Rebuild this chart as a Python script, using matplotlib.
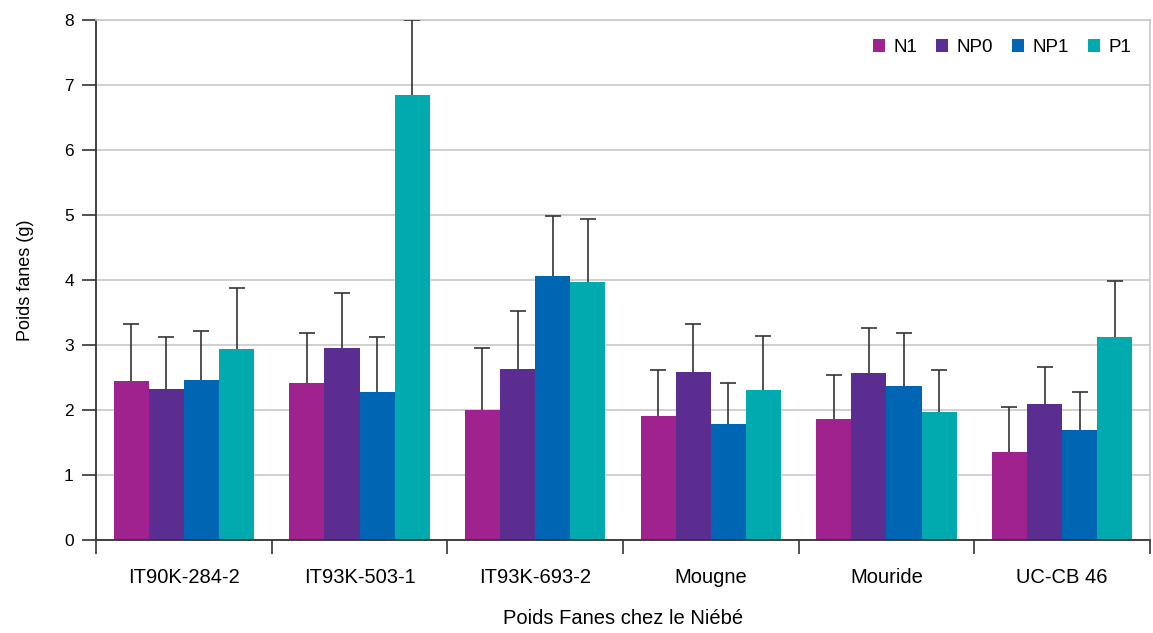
import matplotlib.pyplot as plt
import numpy as np

plt.rcParams['font.family'] = ['Liberation Sans', 'DejaVu Sans']

varieties = ['IT90K-284-2', 'IT93K-503-1', 'IT93K-693-2', 'Mougne', 'Mouride', 'UC-CB 46']
treatments = ['N1', 'NP0', 'NP1', 'P1']
colors = ['#A0228F', '#5C2D91', '#0066B3', '#00AAAE']

n1 = [2.45, 2.42, 2.00, 1.91, 1.86, 1.35]
np0 = [2.32, 2.95, 2.63, 2.58, 2.57, 2.09]
np1 = [2.46, 2.28, 4.06, 1.78, 2.37, 1.69]
p1 = [2.94, 6.85, 3.97, 2.31, 1.97, 3.12]

n1_err = [0.88, 0.77, 0.96, 0.71, 0.68, 0.69]
np0_err = [0.81, 0.85, 0.90, 0.75, 0.69, 0.57]
np1_err = [0.75, 0.84, 0.92, 0.64, 0.81, 0.59]
p1_err = [0.93, 1.15, 0.97, 0.83, 0.65, 0.86]

values = [n1, np0, np1, p1]
errors = [n1_err, np0_err, np1_err, p1_err]

fig = plt.figure(figsize=(11.53, 6.33), dpi=100)
ax = fig.add_axes([0.0833, 0.1469, 0.914, 0.8215])

x = np.arange(len(varieties))
w = 0.2
for i, (vals, errs) in enumerate(zip(values, errors)):
    pos = x + (i - 1.5) * w
    ax.bar(pos, vals, w, color=colors[i], label=treatments[i], zorder=2)
    eb = ax.errorbar(pos, vals, yerr=[np.zeros(len(errs)), errs], fmt='none',
                     ecolor='#333333', elinewidth=1.2, capthick=1.2, capsize=6, zorder=3)
    # hide the lower caps (sitting on the bar tops)
    eb.lines[1][0].set_visible(False)

ax.set_xlim(-0.5, len(varieties) - 0.5)
ax.set_ylim(0, 8)
ax.set_yticks(range(0, 9))
ax.yaxis.grid(True, color='#c8c8c8', linewidth=1.2, zorder=0)
ax.set_axisbelow(True)

ax.set_xticks(np.arange(-0.5, len(varieties)), labels=[])
ax.set_xticks(x, labels=varieties, minor=True)
ax.tick_params(axis='x', which='major', length=10, width=1.2, color='#333333')
ax.tick_params(axis='x', which='minor', length=0, pad=20, labelsize=14.5)
ax.tick_params(axis='y', length=10, width=1.2, color='#333333', labelsize=12.5, pad=6)

for s in ['left', 'bottom']:
    ax.spines[s].set_color('#333333')
    ax.spines[s].set_linewidth(1.3)
for s in ['top', 'right']:
    ax.spines[s].set_color('#c8c8c8')
    ax.spines[s].set_linewidth(1.2)

ax.set_ylabel('Poids fanes (g)', fontsize=13, labelpad=22)
ax.set_xlabel('Poids Fanes chez le Niébé', fontsize=14.5, labelpad=16)

ax.legend(loc='upper right', ncol=4, frameon=False, fontsize=13.5,
          handlelength=0.65, handleheight=0.65, handletextpad=0.45,
          columnspacing=1.0, borderaxespad=0.2, bbox_to_anchor=(0.993, 0.985))

fig.savefig('out.png', dpi=100)
